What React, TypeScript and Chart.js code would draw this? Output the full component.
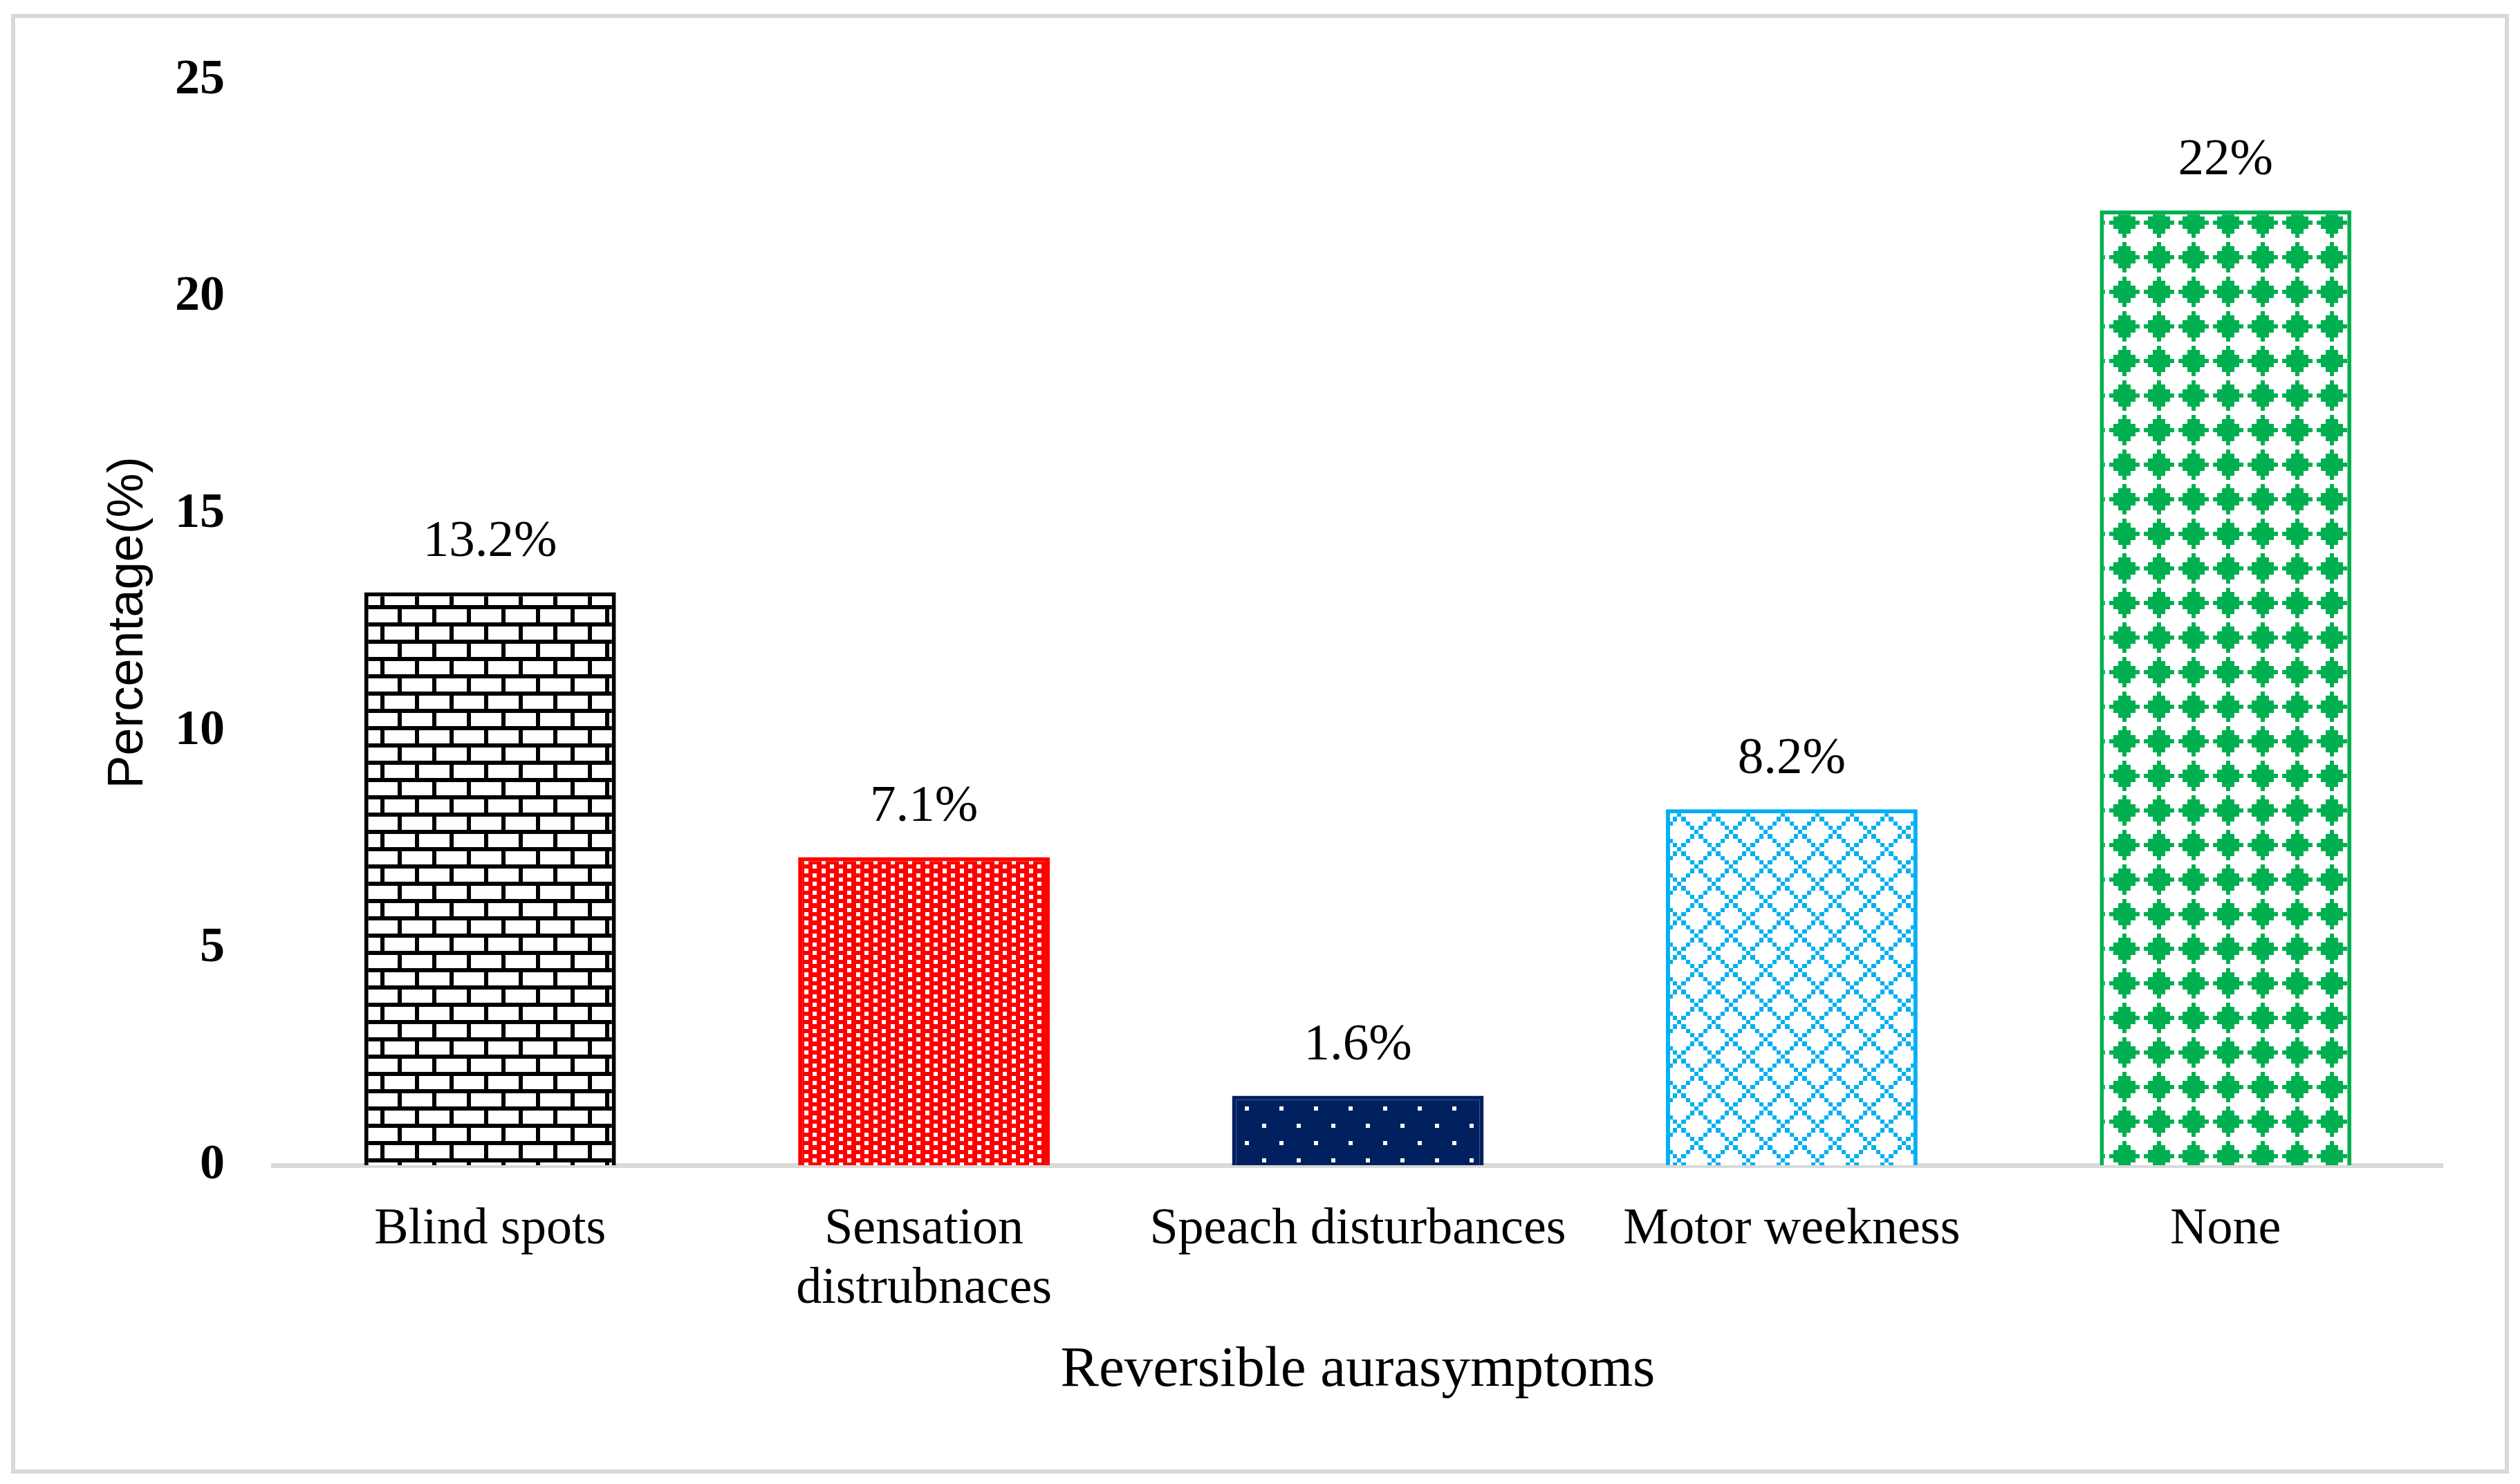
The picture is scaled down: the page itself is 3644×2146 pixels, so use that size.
import React, { useEffect, useRef } from "react";
import { Chart, registerables } from "chart.js";

Chart.register(...registerables);

// ---- data ----
const categories: (string | string[])[] = [
  "Blind spots",
  ["Sensation", "distrubnaces"],
  "Speach disturbances",
  "Motor weekness",
  "None",
];
const values = [13.2, 7.1, 1.6, 8.2, 22];
const yTicks = [0, 5, 10, 15, 20, 25];
const xTitle = "Reversible aurasymptoms";
const yTitle = "Percentage(%)";

// ---- styles ----
const W = 3644;
const H = 2146;
const SERIF = '"Liberation Serif", "Times New Roman", serif';
const SANS = '"Liberation Sans", Arial, sans-serif';

const BRICK = [
  "########",
  "#.......",
  "#.......",
  "#.......",
  "########",
  "....#...",
  "....#...",
  "....#...",
];
const PCT75 = [
  ".###.###",
  "##.###.#",
  ".###.###",
  "##.###.#",
  ".###.###",
  "##.###.#",
  ".###.###",
  "##.###.#",
];
const PCT5 = [
  "#.......",
  "........",
  "........",
  "........",
  "....#...",
  "........",
  "........",
  "........",
];
function diamondOutline(): string[] {
  const rows: string[] = [];
  for (let y = 0; y < 8; y++) {
    let r = "";
    for (let x = 0; x < 8; x++) r += (x + y) % 8 === 0 || (x - y + 8) % 8 === 0 ? "#" : ".";
    rows.push(r);
  }
  return rows;
}
function diamondSolid(): string[] {
  const rows: string[] = [];
  for (let y = 0; y < 8; y++) {
    let r = "";
    for (let x = 0; x < 8; x++) r += Math.abs(x - 3) + Math.abs(y - 3) <= 3 ? "#" : ".";
    rows.push(r);
  }
  return rows;
}

function makePattern(ctx: CanvasRenderingContext2D, bits: string[], fg: string, bg: string) {
  const unit = 6.25;
  const size = Math.round(unit * 8);
  const c = document.createElement("canvas");
  c.width = size;
  c.height = size;
  const t = c.getContext("2d")!;
  t.fillStyle = bg;
  t.fillRect(0, 0, size, size);
  t.fillStyle = fg;
  for (let y = 0; y < 8; y++) {
    for (let x = 0; x < 8; x++) {
      if (bits[y][x] === "#") {
        const x0 = Math.round(x * unit);
        const x1 = Math.round((x + 1) * unit);
        const y0 = Math.round(y * unit);
        const y1 = Math.round((y + 1) * unit);
        t.fillRect(x0, y0, x1 - x0, y1 - y0);
      }
    }
  }
  return ctx.createPattern(c, "repeat")!;
}

export default function App() {
  const ref = useRef<HTMLCanvasElement | null>(null);

  useEffect(() => {
    const canvas = ref.current!;
    const ctx = canvas.getContext("2d")!;

    const patterns = [
      makePattern(ctx, BRICK, "#000000", "#ffffff"),
      makePattern(ctx, PCT75, "#ff0000", "#ffffff"),
      makePattern(ctx, PCT5, "#ffffff", "#002060"),
      makePattern(ctx, diamondOutline(), "#00b0f0", "#ffffff"),
      makePattern(ctx, diamondSolid(), "#00b050", "#ffffff"),
    ];
    const borders = ["#000000", "#ff0000", "#002060", "#00b0f0", "#00b050"];

    const framePlugin = {
      id: "frame",
      beforeDraw(chart: any) {
        const c = chart.ctx;
        c.save();
        c.fillStyle = "#ffffff";
        c.fillRect(0, 0, chart.width, chart.height);
        c.strokeStyle = "#d9d9d9";
        c.lineWidth = 6;
        c.strokeRect(19, 23, 3625 - 19, 2128 - 23);
        c.restore();
      },
    };

    const labelPlugin = {
      id: "valueLabels",
      afterDatasetsDraw(chart: any) {
        const c = chart.ctx;
        const meta = chart.getDatasetMeta(0);
        c.save();
        c.font = `75px ${SERIF}`;
        c.fillStyle = "#000000";
        c.textAlign = "center";
        c.textBaseline = "middle";
        meta.data.forEach((bar: any, i: number) => {
          c.fillText(`${values[i]}%`, bar.x, bar.y - 72);
        });
        c.restore();
      },
    };

    const chart = new Chart(canvas, {
      type: "bar",
      data: {
        labels: categories as any,
        datasets: [
          {
            data: values,
            backgroundColor: patterns as any,
            borderColor: borders,
            borderWidth: 6,
            barPercentage: 0.58,
            categoryPercentage: 1,
          },
        ],
      },
      options: {
        animation: false,
        responsive: false,
        devicePixelRatio: 1,
        layout: { padding: { left: 30, right: 112, top: 116, bottom: 114 } },
        plugins: {
          legend: { display: false },
          tooltip: { enabled: false },
        },
        scales: {
          x: {
            grid: { display: false, drawTicks: false },
            border: { display: true, color: "#d9d9d9", width: 7 },
            ticks: {
              font: { family: SERIF, size: 74, lineHeight: 1.17 },
              color: "#000000",
              padding: 50,
              maxRotation: 0,
              autoSkip: false,
            },
            title: {
              display: true,
              text: xTitle,
              font: { family: SERIF, size: 83, lineHeight: 1.2 },
              color: "#000000",
              padding: 0,
            },
            afterFit: (s: any) => {
              s.height = 347;
            },
          },
          y: {
            min: 0,
            max: 25,
            afterBuildTicks: (s: any) => {
              s.ticks = yTicks.map((v) => ({ value: v }));
            },
            ticks: {
              font: { family: SERIF, size: 72, weight: "bold" },
              color: "#000000",
              padding: 70,
            },
            grid: { display: false, drawTicks: false },
            border: { display: false },
            title: {
              display: true,
              text: yTitle,
              font: { family: SANS, size: 72, lineHeight: 1.2 },
              color: "#000000",
              padding: { top: 113, bottom: 0 },
            },
            afterFit: (s: any) => {
              s.width = 365;
            },
          },
        },
      },
      plugins: [framePlugin, labelPlugin],
    });

    return () => chart.destroy();
  }, []);

  return (
    <div style={{ position: "absolute", left: 0, top: 0, width: W, height: H, background: "#fff" }}>
      <canvas ref={ref} width={W} height={H} style={{ width: W, height: H, display: "block" }} />
    </div>
  );
}
